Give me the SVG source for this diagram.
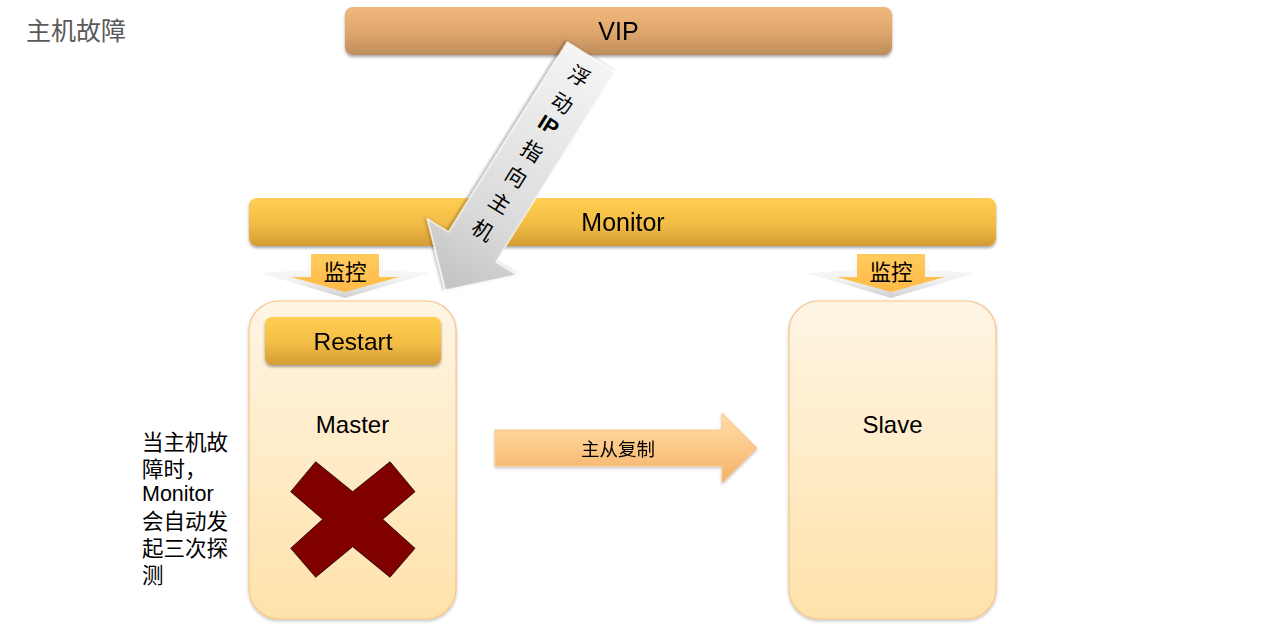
<svg xmlns="http://www.w3.org/2000/svg" width="1265" height="634" viewBox="0 0 1265 634">
  <defs>
    <linearGradient id="gVip" x1="0" y1="0" x2="0" y2="1">
      <stop offset="0" stop-color="#F0B87C"/>
      <stop offset="0.5" stop-color="#E0A86E"/>
      <stop offset="1" stop-color="#BE8C5C"/>
    </linearGradient>
    <linearGradient id="gGold" x1="0" y1="0" x2="0" y2="1">
      <stop offset="0" stop-color="#FFCF52"/>
      <stop offset="0.55" stop-color="#F2BC45"/>
      <stop offset="1" stop-color="#D49C34"/>
    </linearGradient>
    <linearGradient id="gBox" x1="0" y1="0" x2="0" y2="1">
      <stop offset="0" stop-color="#FEF5E4"/>
      <stop offset="1" stop-color="#FFE2AA"/>
    </linearGradient>
    <linearGradient id="gRep" x1="0" y1="0" x2="0" y2="1">
      <stop offset="0" stop-color="#FFDDA8"/>
      <stop offset="0.5" stop-color="#FCC888"/>
      <stop offset="1" stop-color="#F2B066"/>
    </linearGradient>
    <linearGradient id="gChevOut" x1="0" y1="0" x2="0" y2="1">
      <stop offset="0" stop-color="#FFFFFF"/>
      <stop offset="0.6" stop-color="#F2F2F2"/>
      <stop offset="1" stop-color="#CFCFCF"/>
    </linearGradient>
    <linearGradient id="gChevIn" x1="0" y1="0" x2="0" y2="1">
      <stop offset="0" stop-color="#FFCB5E"/>
      <stop offset="1" stop-color="#FFB947"/>
    </linearGradient>
    <linearGradient id="gGrayL" gradientUnits="userSpaceOnUse" x1="0" y1="0" x2="275" y2="0">
      <stop offset="0" stop-color="#F4F4F4"/>
      <stop offset="0.7" stop-color="#DADADA"/>
      <stop offset="1" stop-color="#C2C2C2"/>
    </linearGradient>
    <filter id="sh" x="-10%" y="-10%" width="120%" height="130%">
      <feDropShadow dx="0" dy="2" stdDeviation="1.8" flood-color="#000" flood-opacity="0.35"/>
    </filter>
    <filter id="shS" x="-10%" y="-10%" width="120%" height="130%">
      <feDropShadow dx="0" dy="1.5" stdDeviation="1.5" flood-color="#000" flood-opacity="0.25"/>
    </filter>
  </defs>
  <style>
    .lat { font-family: "Liberation Sans", Arial, "Noto Sans CJK SC", sans-serif; fill: #000; }
    .cjk { font-family: "Noto Sans CJK SC", "Liberation Sans", sans-serif; fill: #000; }
    .mid { text-anchor: middle; }
    .box { fill: url(#gBox); stroke: #F8C58C; stroke-width: 1.2; }
    .gold { fill: url(#gGold); }
  </style>

  <rect width="1265" height="634" fill="#FFFFFF"/>

  <text id="title" class="cjk" x="26" y="40" font-size="25" style="fill:#595959">主机故障</text>

  <g id="vip" filter="url(#sh)">
    <rect x="345" y="7" width="547" height="48" rx="8" fill="url(#gVip)"/>
    <text class="lat mid" x="618.5" y="40" font-size="25">VIP</text>
  </g>

  <g id="monitor" filter="url(#sh)">
    <rect x="249" y="198" width="747" height="48" rx="8" class="gold"/>
    <text class="lat mid" x="623" y="231" font-size="25">Monitor</text>
  </g>

  <g id="master" >
    <rect x="249" y="301" width="207" height="318" rx="30" class="box" filter="url(#shS)"/>
    <g id="restart" filter="url(#sh)">
      <rect x="265" y="317" width="176" height="48" rx="7" class="gold"/>
      <text class="lat mid" x="353" y="350" font-size="24.5">Restart</text>
    </g>
    <text class="lat mid" x="352.5" y="433" font-size="24">Master</text>
    <polygon id="cross" points="315.7,461.7 352.7,491.7 390,461.7 415,491.7 382.7,519.3 415,548.3 390,577.3 352.7,546.7 315.7,577.3 290.7,548.3 322.7,519.3 290.7,491.7" fill="#800000" stroke="#1a0000" stroke-width="0.8"/>
  </g>

  <g id="slave">
    <rect x="789" y="301" width="207" height="318" rx="30" class="box" filter="url(#shS)"/>
    <text class="lat mid" x="892.5" y="433" font-size="24">Slave</text>
  </g>

  <g id="note">
    <text class="cjk" x="142" y="450" font-size="21.5">当主机故</text>
    <text class="cjk" x="142" y="477" font-size="21.5">障时，</text>
    <text class="lat" x="142" y="501" font-size="21.5">Monitor</text>
    <text class="cjk" x="142" y="529" font-size="21.5">会自动发</text>
    <text class="cjk" x="142" y="556" font-size="21.5">起三次探</text>
    <text class="cjk" x="142" y="583" font-size="21.5">测</text>
  </g>

  <g id="connectors">
    <g id="mon-left">
      <polygon points="307,253 383,253 383,270 430,273 345,298 260,273 307,270" fill="url(#gChevOut)"/>
      <polygon points="311,254 379,254 379,277 399,277 345,292 291,277 311,277" fill="url(#gChevIn)"/>
      <text class="cjk mid" x="345" y="280" font-size="21.5">监控</text>
    </g>
    <g id="mon-right">
      <polygon points="853,253 929,253 929,270 976,273 891,298 806,273 853,270" fill="url(#gChevOut)"/>
      <polygon points="857,254 925,254 925,277 945,277 891,292 837,277 857,277" fill="url(#gChevIn)"/>
      <text class="cjk mid" x="891" y="280" font-size="21.5">监控</text>
    </g>
    <g id="replicate" filter="url(#shS)">
      <polygon points="495,430 722,430 722,413 757,448 722,483 722,466 495,466" fill="url(#gRep)" stroke="#F8C890" stroke-width="1"/>
      <text class="cjk mid" x="618" y="455.5" font-size="18.5">主从复制</text>
    </g>
    <g id="float-ip" transform="translate(591,57) rotate(122)">
      <polygon points="0,-28 224,-28 224,-53 275,0 224,53 224,28 0,28" fill="url(#gGrayL)" stroke="#FFFFFF" stroke-width="1.2" filter="url(#sh)"/>
      <g font-size="21">
        <text transform="translate(21,0) rotate(-90)" class="cjk mid" dominant-baseline="central">浮</text>
        <text transform="translate(53,0) rotate(-90)" class="cjk mid" dominant-baseline="central">动</text>
        <text transform="translate(80,0) rotate(-90)" class="lat mid" dominant-baseline="central" font-weight="bold">IP</text>
        <text transform="translate(110,0) rotate(-90)" class="cjk mid" dominant-baseline="central">指</text>
        <text transform="translate(140,0) rotate(-90)" class="cjk mid" dominant-baseline="central">向</text>
        <text transform="translate(171,0) rotate(-90)" class="cjk mid" dominant-baseline="central">主</text>
        <text transform="translate(203,0) rotate(-90)" class="cjk mid" dominant-baseline="central">机</text>
      </g>
    </g>
  </g>
</svg>
